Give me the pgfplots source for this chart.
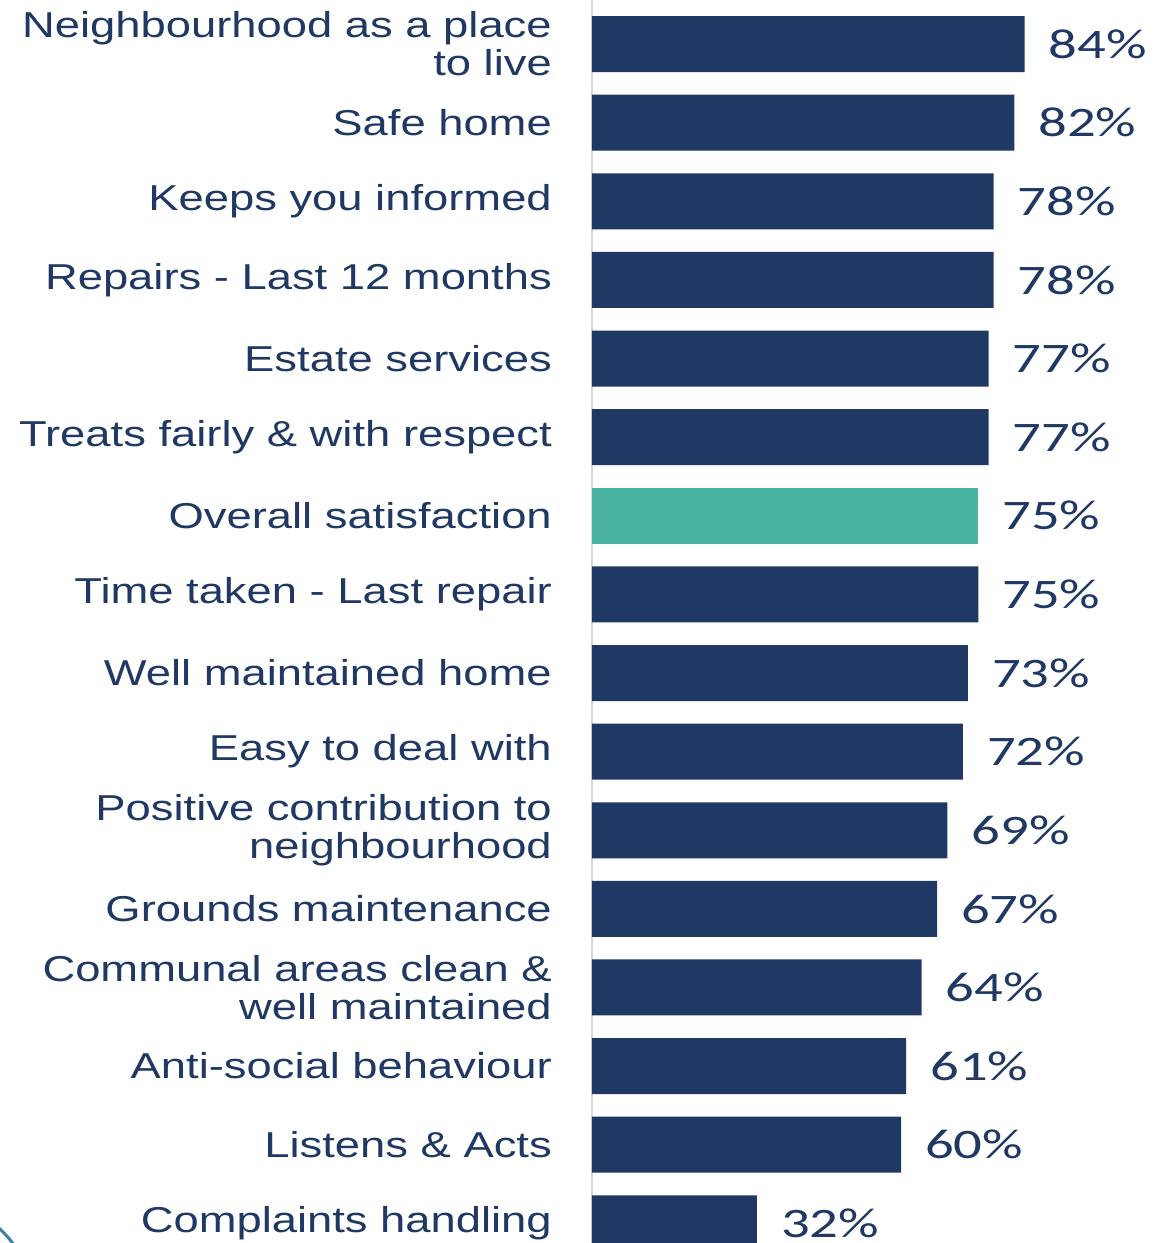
\documentclass[border=0pt]{standalone}
\usepackage{fontspec}
\setmainfont{Liberation Sans}[FakeStretch=1.26]
\newfontfamily\pctfont{Carlito}[FakeStretch=1.35]
\usepackage{pgfplots}
\pgfplotsset{compat=1.18}
\definecolor{navy}{RGB}{32,56,100}
\definecolor{overall}{RGB}{74,179,163}
\definecolor{arcblue}{RGB}{60,130,170}

\begin{document}
\begin{tikzpicture}
\useasboundingbox (0,0) rectangle (1165pt,1243pt);
\begin{axis}[
    at={(592pt,0pt)}, anchor=south west,
    scale only axis,
    width=515pt, height=1243pt,
    xbar, bar width=56pt, bar shift=0pt,
    xmin=0, xmax=100,
    ymin=-0.56, ymax=15.25,
    y dir=reverse,
    axis x line=none,
    axis y line=left,
    axis line style={-, draw=black!15, line width=2.5pt},
    major tick length=0pt,
    ytick={0,...,15},
    yticklabels={
        {Neighbourhood as a place\\to live},
        Safe home,
        Keeps you informed,
        Repairs - Last 12 months,
        Estate services,
        Treats fairly \& with respect,
        Overall satisfaction,
        Time taken - Last repair,
        Well maintained home,
        Easy to deal with,
        {Positive contribution to\\neighbourhood},
        Grounds maintenance,
        {Communal areas clean \&\\well maintained},
        Anti-social behaviour,
        Listens \& Acts,
        Complaints handling},
    yticklabel style={align=right, inner sep=0pt, xshift=-40pt,
        font=\fontsize{36}{38}\selectfont, text=navy},
    point meta=x,
    /pgf/number format/assume math mode=true,
    nodes near coords={\pgfmathprintnumber{\pgfplotspointmeta}\%},
    every node near coord/.append style={anchor=west, inner sep=0pt,
        xshift=24pt, font=\pctfont\fontsize{42}{42}\selectfont, text=navy},
]
% all measures except overall satisfaction
\addplot[fill=navy, draw=none] coordinates {
    (84,0) (82,1) (78,2) (78,3) (77,4) (77,5)
    (75,7) (73,8) (72,9) (69,10) (67,11) (64,12)
    (61,13) (60,14) (32,15)};
% overall satisfaction
\addplot[fill=overall, draw=none] coordinates {(75,6)};
\end{axis}
\draw[arcblue, line width=3pt] (-2pt,16pt) .. controls (5pt,9pt) and (9pt,5pt) .. (14pt,-2pt);
\end{tikzpicture}
\end{document}
